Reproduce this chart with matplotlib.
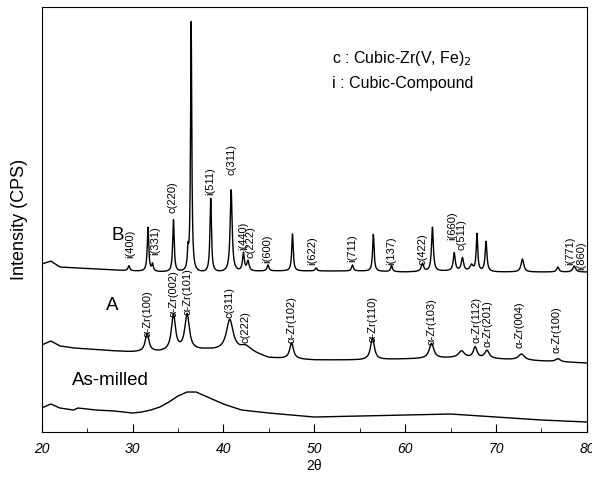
import numpy as np
import matplotlib
matplotlib.use("Agg")
import matplotlib.pyplot as plt
from matplotlib.ticker import MultipleLocator

plt.rcParams["font.family"] = ["Liberation Sans", "DejaVu Sans"]

# ── Pattern data (2θ in degrees, intensity in arbitrary counts) ─────────────
# Pattern B : annealed, Cubic-Zr(V,Fe)2 + cubic compound
b_base_x = [20, 21, 22, 24, 26, 28, 30, 33, 38, 45, 50, 55, 60, 65, 70, 75, 80]
b_base_y = [168, 171, 165, 164, 163, 162, 161, 160, 159, 161, 161, 161, 160, 161, 160, 160, 160]
b_pk_pos = [29.6, 31.7, 32.2, 34.5, 36.1, 36.45, 38.6, 40.85, 42.2, 42.7, 44.9, 47.6,
            50.2, 54.2, 56.5, 58.5, 61.9, 63.0, 65.4, 66.3, 67.3, 67.9, 68.9, 72.9, 76.8, 78.6]
b_pk_hgt = [5, 44, 7, 52, 18, 250, 74, 82, 18, 10, 6, 37,
            3, 6, 37, 6, 8, 44, 18, 13, 6, 37, 30, 13, 5, 6]
b_pk_wid = [0.12, 0.1, 0.1, 0.1, 0.08, 0.08, 0.1, 0.13, 0.12, 0.15, 0.12, 0.1,
            0.12, 0.12, 0.1, 0.12, 0.15, 0.12, 0.13, 0.15, 0.2, 0.1, 0.12, 0.18, 0.15, 0.18]

# Pattern A : α-Zr + Zr(V,Fe)2
a_base_x = [20, 21, 22, 23.5, 25, 28, 30, 33, 38, 43, 45, 50, 55, 60, 65, 70, 75, 80]
a_base_y = [87, 91, 86, 84, 83, 81, 80, 80, 82, 80, 74, 72, 72, 73, 74, 73, 71, 69]
a_pk_pos = [31.6, 34.5, 36.0, 40.7, 42.4, 47.5, 56.4, 62.9, 66.2, 67.7, 69.0, 72.8, 76.8]
a_pk_hgt = [18, 36, 36, 31, 5, 16, 22, 15, 7, 11, 8, 6, 3]
a_pk_wid = [0.25, 0.27, 0.3, 0.45, 0.6, 0.25, 0.25, 0.3, 0.4, 0.25, 0.3, 0.4, 0.3]

# As-milled : amorphous hump
m_x = [20, 21, 22, 23.5, 24, 26, 28, 30, 31, 32, 33, 34, 35, 36, 37, 38, 39, 40,
       41, 42, 43, 44, 45, 50, 55, 60, 65, 70, 75, 80]
m_y = [24, 28, 24, 22, 24, 22, 21, 19, 20, 22, 25, 30, 36, 40, 40, 36, 32, 28,
       25, 22, 21, 20, 19, 15, 16, 17, 18, 15, 12, 10]

# ── Reflection labels: (text, 2θ, label base) ──────────────────────────────
b_labels = [("i(400)", 29.7, 174), ("i(331)", 32.5, 177), ("c(220)", 34.4, 219),
            ("i(511)", 38.5, 237), ("c(311)", 40.9, 257), ("i(440)", 42.2, 182),
            ("c(222)", 43.0, 174), ("i(600)", 44.8, 169), ("i(622)", 49.8, 167),
            ("i(711)", 54.2, 170), ("i(137)", 58.5, 167), ("c(422)", 61.9, 167),
            ("i(660)", 65.2, 192), ("c(511)", 66.2, 182), ("i(771)", 78.2, 167),
            ("i(860)", 79.4, 162)]
a_labels = [("α-Zr(100)", 31.6, 95), ("α-Zr(002)", 34.5, 115), ("α-Zr(101)", 36.0, 117),
            ("c(311)", 40.7, 114), ("c(222)", 42.4, 89), ("α-Zr(102)", 47.5, 89),
            ("α-Zr(110)", 56.4, 90), ("α-Zr(103)", 62.9, 87), ("α-Zr(112)", 67.9, 89),
            ("α-Zr(201)", 69.1, 85), ("α-Zr(004)", 72.6, 84), ("α-Zr(100)", 76.7, 79)]


def pattern(tt, base_x, base_y, pos, hgt, wid):
    y = np.interp(tt, base_x, base_y)
    for p, h, w in zip(pos, hgt, wid):
        y = y + h / (1 + ((tt - p) / w) ** 2)
    return y


tt = np.linspace(20, 80, 6001)
curve_b = pattern(tt, b_base_x, b_base_y, b_pk_pos, b_pk_hgt, b_pk_wid)
curve_a = pattern(tt, a_base_x, a_base_y, a_pk_pos, a_pk_hgt, a_pk_wid)

fig = plt.figure(figsize=(5.92, 4.79), dpi=100)
ax = fig.add_axes([0.0704, 0.0981, 0.921, 0.887])

ax.plot(tt, curve_b, color="black", lw=1.0)
ax.plot(tt, curve_a, color="black", lw=1.0)
ax.plot(m_x, m_y, color="black", lw=1.0)

for txt, x, y in b_labels:
    ax.text(x, y, txt, rotation=90, ha="center", va="bottom", fontsize=8)
for txt, x, y in a_labels:
    ax.text(x, y, txt, rotation=90, ha="center", va="bottom", fontsize=8)

ax.text(28.4, 197, "B", fontsize=13.5, ha="center", va="center")
ax.text(27.8, 127, "A", fontsize=13.5, ha="center", va="center")
ax.text(23.3, 52, "As-milled", fontsize=13.5, ha="left", va="center")
ax.text(52.0, 374, "c : Cubic-Zr(V, Fe)$_2$", fontsize=11.5, ha="left", va="center")
ax.text(52.0, 349, "i : Cubic-Compound", fontsize=11.5, ha="left", va="center")

ax.set_xlim(20, 80)
ax.set_ylim(0, 425)
ax.xaxis.set_major_locator(MultipleLocator(10))
ax.xaxis.set_minor_locator(MultipleLocator(5))
ax.tick_params(axis="x", which="major", direction="in", length=6, pad=7)
ax.tick_params(axis="x", which="minor", direction="in", length=3)
ax.set_yticks([])
for lbl in ax.get_xticklabels():
    lbl.set_fontstyle("italic")
    lbl.set_fontsize(10)
ax.set_xlabel("2θ", fontsize=10, labelpad=2)
ax.set_ylabel("Intensity (CPS)", fontsize=13, labelpad=10)

fig.savefig("out.png", dpi=100)
